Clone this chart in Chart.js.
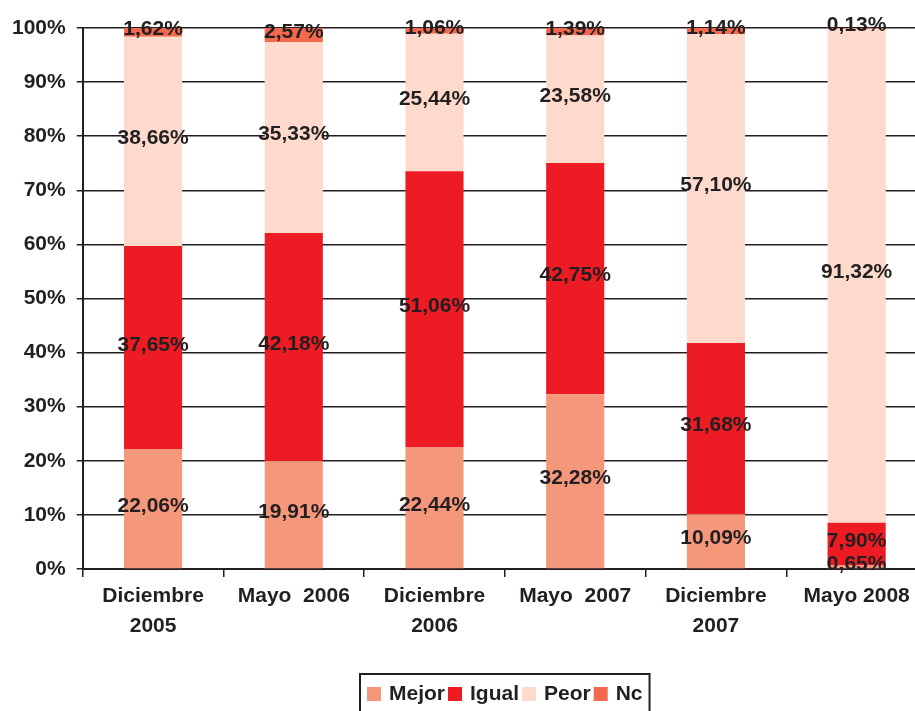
<!DOCTYPE html>
<html>
<head>
<meta charset="utf-8">
<script src="https://cdn.jsdelivr.net/npm/chart.js@4"></script>
<style>
  body { margin: 0; overflow: hidden; background: #fff; }
  #wrap { width: 935px; height: 711px; }
</style>
</head>
<body>
<div id="wrap"><canvas id="encuestaChart"></canvas></div>
<script>
var categories = [['Diciembre', '2005'], 'Mayo  2006', ['Diciembre', '2006'], 'Mayo  2007', ['Diciembre', '2007'], 'Mayo 2008'];
var mejor = [22.06, 19.91, 22.44, 32.28, 10.09, 0.65];
var igual = [37.65, 42.18, 51.06, 42.75, 31.68, 7.90];
var peor  = [38.66, 35.33, 25.44, 23.58, 57.10, 91.32];
var nc    = [1.62, 2.57, 1.06, 1.39, 1.14, 0.13];
var seriesNames = ['Mejor', 'Igual', 'Peor', 'Nc'];
var seriesColors = ['#f4977a', '#ed1c24', '#fddacb', '#f2694d'];

var FONT = 'bold 21px "Liberation Sans", Arial, sans-serif';
var INK = '#231f20';

// etiquetas de valor centradas en cada tramo
var valueLabels = {
  id: 'valueLabels',
  afterDatasetsDraw: function (chart) {
    var ctx = chart.ctx;
    ctx.save();
    ctx.font = FONT;
    ctx.fillStyle = INK;
    ctx.textAlign = 'center';
    ctx.textBaseline = 'middle';
    chart.data.datasets.forEach(function (ds, i) {
      chart.getDatasetMeta(i).data.forEach(function (bar, j) {
        var txt = ds.data[j].toFixed(2).replace('.', ',') + '%';
        var y = (bar.y + bar.base) / 2 - 3;
        ctx.fillText(txt, bar.x, y);
      });
    });
    ctx.restore();
  }
};

// leyenda con recuadro, centrada en el area del grafico
var boxLegend = {
  id: 'boxLegend',
  afterDraw: function (chart) {
    var ctx = chart.ctx;
    var area = chart.chartArea;
    ctx.save();
    ctx.font = FONT;
    var pad = 7, mark = 14, gapIn = 8, gapOut = 3;
    var widths = seriesNames.map(function (n) { return ctx.measureText(n).width; });
    var total = pad * 2;
    widths.forEach(function (w, i) {
      total += mark + gapIn + w + (i < widths.length - 1 ? gapOut : 0);
    });
    var left = Math.round((area.left + area.right) / 2 - total / 2);
    var top = 674;
    ctx.strokeStyle = INK;
    ctx.lineWidth = 2;
    ctx.strokeRect(left, top, total, 50);
    var x = left + pad;
    ctx.textBaseline = 'alphabetic';
    ctx.textAlign = 'left';
    seriesNames.forEach(function (n, i) {
      ctx.fillStyle = seriesColors[i];
      ctx.fillRect(x, 687, mark, mark);
      x += mark + gapIn;
      ctx.fillStyle = INK;
      ctx.fillText(n, x, 700);
      x += widths[i] + gapOut;
    });
    ctx.restore();
  }
};

var ctx = document.getElementById('encuestaChart').getContext('2d');
var chart = new Chart(ctx, {
  type: 'bar',
  data: {
    labels: categories,
    datasets: [mejor, igual, peor, nc].map(function (vals, i) {
      return {
        label: seriesNames[i],
        data: vals,
        backgroundColor: seriesColors[i],
        borderWidth: 0,
        categoryPercentage: 1,
        barPercentage: 0.413
      };
    })
  },
  options: {
    responsive: true,
    maintainAspectRatio: false,
    animation: false,
    layout: { padding: { top: 28, left: 1, right: 8, bottom: 66 } },
    plugins: {
      legend: { display: false },
      tooltip: { enabled: false }
    },
    scales: {
      x: {
        stacked: true,
        grid: { display: true, drawOnChartArea: false, drawTicks: true, tickLength: 8, color: INK, lineWidth: 1.5 },
        border: { display: true, color: INK, width: 2 },
        ticks: {
          color: INK,
          font: { family: '"Liberation Sans", Arial, sans-serif', size: 21, weight: 'bold', lineHeight: 1.43 },
          padding: 4,
          maxRotation: 0,
          autoSkip: false
        }
      },
      y: {
        stacked: true,
        min: 0,
        max: 100,
        grid: { color: INK, lineWidth: 1.5, drawTicks: true, tickLength: 6 },
        border: { display: true, color: INK, width: 2 },
        ticks: {
          stepSize: 10,
          color: INK,
          padding: 11,
          font: { family: '"Liberation Sans", Arial, sans-serif', size: 21, weight: 'bold' },
          callback: function (v) { return v + '%'; }
        }
      }
    }
  },
  plugins: [valueLabels, boxLegend]
});
</script>
</body>
</html>
